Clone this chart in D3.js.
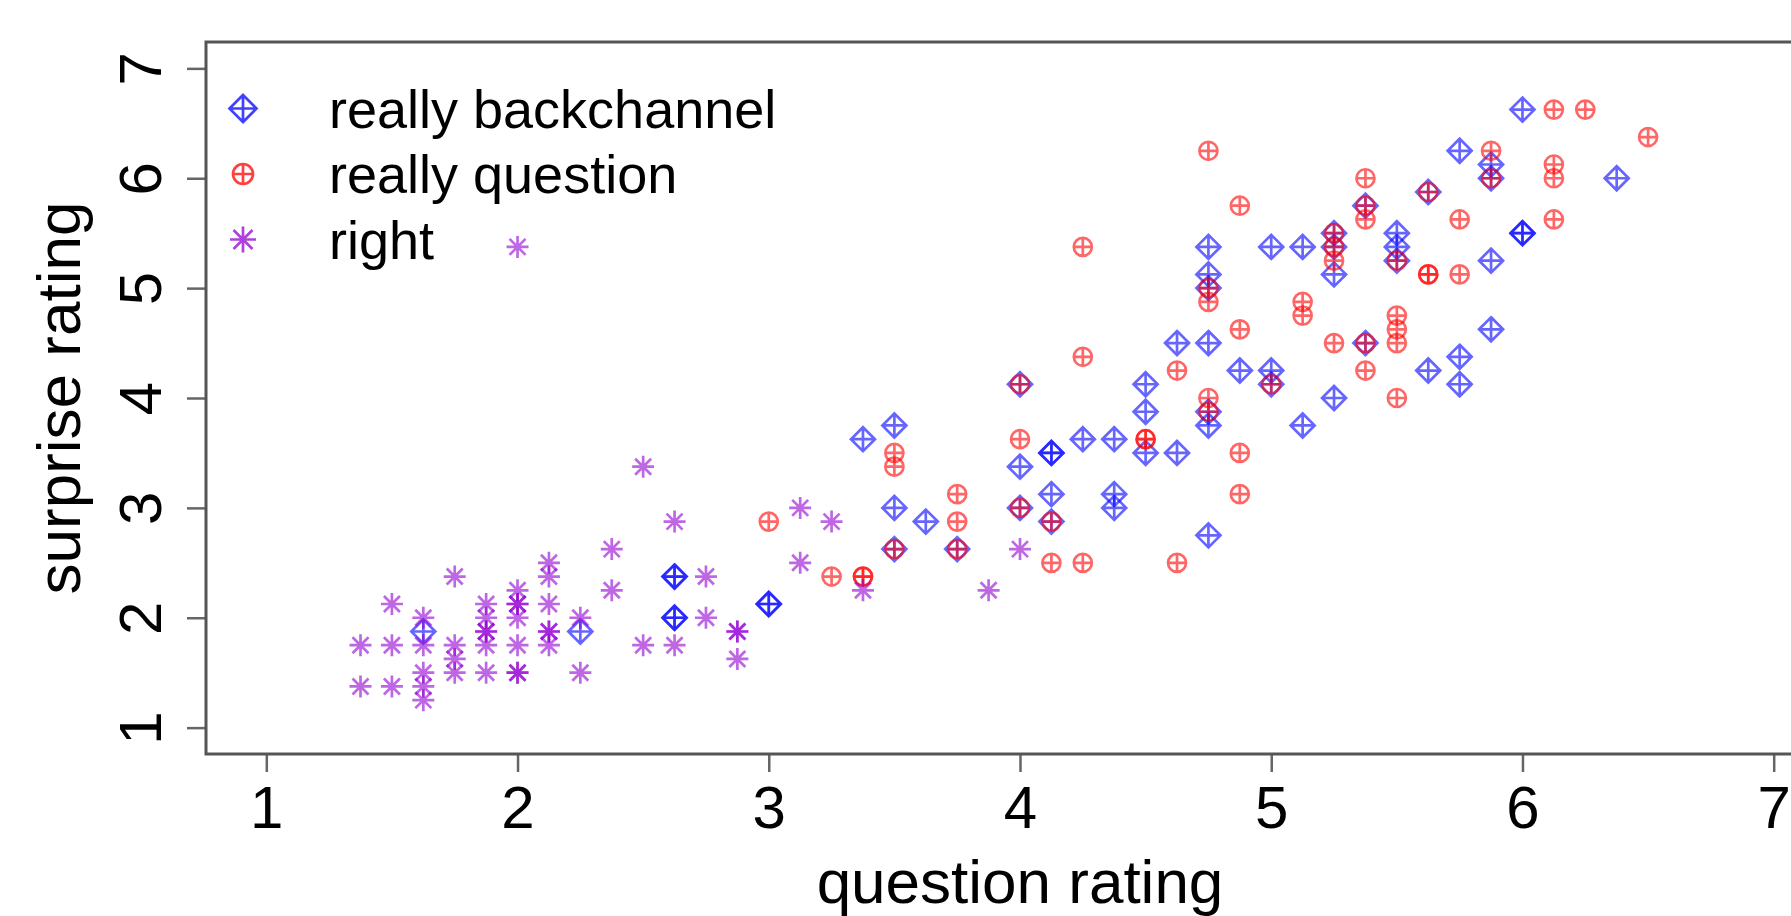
<!DOCTYPE html>
<html>
<head>
<meta charset="utf-8">
<script src="https://cdnjs.cloudflare.com/ajax/libs/d3/7.8.5/d3.min.js"></script>
<style>
body { margin: 0; background: #fff; }
svg { display: block; font-family: "Liberation Sans", Arial, sans-serif; }
</style>
</head>
<body>
<svg></svg>
<script>
const w = 1791
const h = 916

// really backchannel (blue diamonds)
const backchannelX = [1.625, 2.25, 2.625, 2.625, 2.625, 2.625, 3.0, 3.0, 3.375, 3.5, 3.5, 3.5, 3.625, 3.75,
    4.0, 4.0, 4.0, 4.125, 4.125, 4.125, 4.125, 4.25, 4.375, 4.375, 4.375, 4.5, 4.5, 4.5, 4.625, 4.625,
    4.75, 4.75, 4.75, 4.75, 4.75, 4.75, 4.75, 4.875, 5.0, 5.0, 5.0, 5.125, 5.125, 5.25, 5.25, 5.25, 5.25,
    5.375, 5.375, 5.5, 5.5, 5.5, 5.625, 5.625, 5.75, 5.75, 5.75, 5.875, 5.875, 5.875, 5.875, 6.0, 6.0, 6.0, 6.375]
const backchannelY = [1.875, 1.875, 2.375, 2.375, 2.0, 2.0, 2.125, 2.125, 3.625, 3.75, 3.0, 2.625, 2.875, 2.625,
    4.125, 3.375, 3.0, 3.5, 3.5, 3.125, 2.875, 3.625, 3.625, 3.125, 3.0, 4.125, 3.875, 3.5, 4.5, 3.5,
    5.375, 5.125, 5.0, 4.5, 3.875, 3.75, 2.75, 4.25, 5.375, 4.25, 4.125, 5.375, 3.75, 5.5, 5.375, 5.125, 4.0,
    5.75, 4.5, 5.5, 5.375, 5.25, 5.875, 4.25, 6.25, 4.375, 4.125, 6.125, 6.0, 5.25, 4.625, 6.625, 5.5, 5.5, 6.0]

// really question (red circles)
const questionX = [3.0, 3.25, 3.375, 3.375, 3.5, 3.5, 3.5, 3.75, 3.75, 3.75, 4.0, 4.0, 4.0, 4.125, 4.125,
    4.25, 4.25, 4.25, 4.5, 4.5, 4.625, 4.625, 4.75, 4.75, 4.75, 4.75, 4.75, 4.875, 4.875, 4.875, 4.875,
    5.0, 5.125, 5.125, 5.25, 5.25, 5.25, 5.25, 5.375, 5.375, 5.375, 5.375, 5.375, 5.5, 5.5, 5.5, 5.5, 5.5,
    5.625, 5.625, 5.625, 5.75, 5.75, 5.875, 5.875, 6.125, 6.125, 6.125, 6.125, 6.25, 6.5]
const questionY = [2.875, 2.375, 2.375, 2.375, 3.5, 3.375, 2.625, 3.125, 2.875, 2.625, 4.125, 3.625, 3.0, 2.875, 2.5,
    5.375, 4.375, 2.5, 3.625, 3.625, 4.25, 2.5, 6.25, 5.0, 4.875, 4.0, 3.875, 5.75, 4.625, 3.5, 3.125,
    4.125, 4.875, 4.75, 5.5, 5.375, 5.25, 4.5, 6.0, 5.75, 5.625, 4.5, 4.25, 5.25, 4.75, 4.625, 4.5, 4.0,
    5.875, 5.125, 5.125, 5.625, 5.125, 6.25, 6.0, 6.625, 6.125, 6.0, 5.625, 6.625, 6.375]

// right (purple asterisks)
const rightX = [1.375, 1.375, 1.5, 1.5, 1.5, 1.625, 1.625, 1.625, 1.625, 1.625, 1.75, 1.75, 1.75, 1.75,
    1.875, 1.875, 1.875, 1.875, 1.875, 1.875, 2.0, 2.0, 2.0, 2.0, 2.0, 2.0, 2.0, 2.0,
    2.125, 2.125, 2.125, 2.125, 2.125, 2.125, 2.25, 2.25, 2.375, 2.375, 2.5, 2.5, 2.625, 2.625,
    2.75, 2.75, 2.875, 2.875, 2.875, 3.125, 3.125, 3.25, 3.375, 3.875, 4.0]
const rightY = [1.75, 1.375, 2.125, 1.75, 1.375, 2.0, 1.75, 1.5, 1.375, 1.25, 2.375, 1.75, 1.625, 1.5,
    2.125, 2.0, 1.875, 1.875, 1.75, 1.5, 5.375, 2.25, 2.125, 2.125, 2.0, 1.75, 1.5, 1.5,
    2.5, 2.375, 2.125, 1.875, 1.875, 1.75, 2.0, 1.5, 2.625, 2.25, 3.375, 1.75, 2.875, 1.75,
    2.375, 2.0, 1.875, 1.875, 1.625, 3.0, 2.5, 2.875, 2.25, 2.25, 2.625]

const seriesNames = ['really backchannel', 'really question', 'right']
const tickValues = [1, 2, 3, 4, 5, 6, 7]
const xTitle = 'question rating'
const yTitle = 'surprise rating'

const svg = d3.select('svg')
    .attr('width', w)
    .attr('height', h)

// R style limits: 1..7 plus 4% on each side
const x = d3.scaleLinear().domain([0.76, 7.24]).range([206, 1834])
const y = d3.scaleLinear().domain([0.76, 7.24]).range([754, 42])

// plotting symbols (pch 9, 10, 8)
const diamondPlus = s => `M0,${-s}L${s},0L0,${s}L${-s},0Z M0,${-s}V${s} M${-s},0H${s}`
const circlePlus = r => `M${-r},0A${r},${r} 0 1,0 ${r},0A${r},${r} 0 1,0 ${-r},0Z M0,${-r}V${r} M${-r},0H${r}`
const asterisk = (a, b) => `M0,${-a}V${a} M${-a},0H${a} M${-b},${-b}L${b},${b} M${-b},${b}L${b},${-b}`

const series = [
    { name: seriesNames[0], xs: backchannelX, ys: backchannelY, color: '#0000ff', shape: diamondPlus(12), big: diamondPlus(13.5) },
    { name: seriesNames[1], xs: questionX, ys: questionY, color: '#ff0000', shape: circlePlus(9), big: circlePlus(10) },
    { name: seriesNames[2], xs: rightX, ys: rightY, color: '#9400d3', shape: asterisk(11, 8), big: asterisk(13, 9.5) }
]

const drawPoints = () => {
    series.forEach(s => {
        svg.append('g')
            .selectAll('path')
            .data(d3.zip(s.xs, s.ys))
            .join('path')
            .attr('transform', d => `translate(${x(d[0])},${y(d[1])})`)
            .attr('d', s.shape)
            .attr('fill', 'none')
            .attr('stroke', s.color)
            .attr('stroke-width', 2.7)
            .attr('stroke-opacity', 0.6)
    })
}

const drawAxes = () => {
    const xAxis = d3.axisBottom(x).tickValues(tickValues).tickSize(18).tickFormat(d3.format('d'))
    svg.append('g')
        .attr('transform', `translate(0,${y.range()[0]})`)
        .call(xAxis)
        .attr('font-size', 60)
        .attr('font-family', null)
        .call(g => g.select('.domain').remove())
        .call(g => g.selectAll('line').attr('stroke', '#666').attr('stroke-width', 2.5))
        .call(g => g.selectAll('text').attr('y', 74).attr('dy', 0).attr('fill', '#000'))

    const yAxis = d3.axisLeft(y).tickValues(tickValues).tickSize(19).tickFormat(d3.format('d'))
    svg.append('g')
        .attr('transform', `translate(${x.range()[0]},0)`)
        .call(yAxis)
        .attr('font-size', 60)
        .attr('font-family', null)
        .call(g => g.select('.domain').remove())
        .call(g => g.selectAll('line').attr('stroke', '#666').attr('stroke-width', 2.5))
        .call(g => g.selectAll('text')
            .attr('x', 0)
            .attr('dy', 0)
            .attr('text-anchor', 'middle')
            .attr('transform', 'translate(-45,0) rotate(-90)')
            .attr('fill', '#000'))

    // box around plot region
    svg.append('rect')
        .attr('x', x.range()[0])
        .attr('y', y.range()[1])
        .attr('width', x.range()[1] - x.range()[0])
        .attr('height', y.range()[0] - y.range()[1])
        .attr('fill', 'none')
        .attr('stroke', '#555')
        .attr('stroke-width', 3)

    svg.append('text')
        .attr('x', (x(1) + x(7)) / 2)
        .attr('y', 903)
        .attr('text-anchor', 'middle')
        .attr('font-size', 62)
        .text(xTitle)

    svg.append('text')
        .attr('transform', `translate(80,${(y.range()[0] + y.range()[1]) / 2}) rotate(-90)`)
        .attr('text-anchor', 'middle')
        .attr('font-size', 62)
        .text(yTitle)
}

const drawLegend = () => {
    const lx = 243
    const ly = 108.5
    const step = 65.5
    const items = svg.append('g')
        .selectAll('g')
        .data(series)
        .join('g')
        .attr('transform', (d, i) => `translate(${lx},${ly + i * step})`)
    items.append('path')
        .attr('d', d => d.big)
        .attr('fill', 'none')
        .attr('stroke', d => d.color)
        .attr('stroke-width', 2.7)
        .attr('stroke-opacity', 0.75)
    items.append('text')
        .attr('x', 86)
        .attr('y', 19)
        .attr('font-size', 54)
        .text(d => d.name)
}

drawPoints()
drawAxes()
drawLegend()
</script>
</body>
</html>
